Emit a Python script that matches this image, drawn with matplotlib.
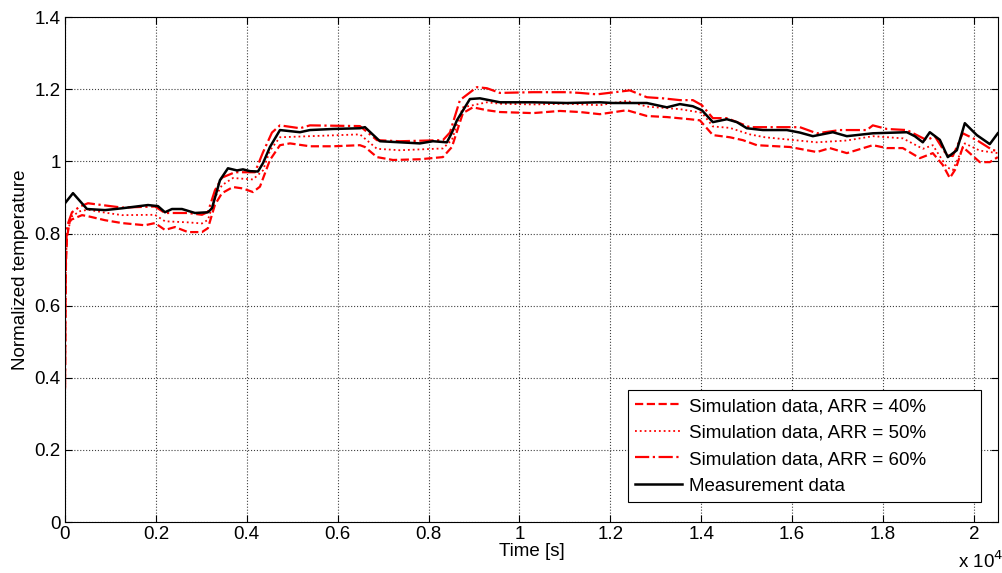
import numpy as np
import matplotlib
matplotlib.use("Agg")
import matplotlib.pyplot as plt
from matplotlib.ticker import FuncFormatter

plt.rcParams['font.family'] = ['Liberation Sans', 'DejaVu Sans']
plt.rcParams['font.size'] = 13.5

#-----------------------
#   data (time in s)
#-----------------------

t_meas = [0, 176, 330, 484, 880, 1254, 1826, 2046, 2200, 2354, 2574, 2860, 3146, 3234,
          3410, 3586, 3784, 3916, 4070, 4246, 4356, 4510, 4730, 4950, 5170, 5390, 5896,
          6490, 6600, 6930, 7370, 7810, 8096, 8404, 8514, 8624, 8910, 9130, 9570, 10296,
          11044, 11770, 12056, 12804, 13244, 13530, 13816, 14014, 14256, 14564, 14784,
          15004, 15356, 15884, 16170, 16456, 16896, 17204, 17776, 18524, 18700, 18876,
          19030, 19250, 19426, 19624, 19800, 20064, 20350, 20526]
y_meas = [0.884, 0.912, 0.89, 0.868, 0.865, 0.87, 0.879, 0.876, 0.859, 0.868, 0.868, 0.857,
          0.859, 0.87, 0.948, 0.981, 0.975, 0.978, 0.973, 0.972, 0.995, 1.04, 1.087, 1.084,
          1.081, 1.087, 1.09, 1.092, 1.095, 1.056, 1.053, 1.05, 1.056, 1.053, 1.08, 1.114,
          1.173, 1.175, 1.164, 1.164, 1.162, 1.164, 1.162, 1.162, 1.15, 1.159, 1.153, 1.142,
          1.109, 1.117, 1.109, 1.092, 1.087, 1.087, 1.08, 1.07, 1.081, 1.07, 1.078, 1.081,
          1.07, 1.053, 1.081, 1.06, 1.012, 1.031, 1.106, 1.073, 1.048, 1.078]

t_arr40 = [0, 10, 22, 44, 110, 374, 506, 880, 1254, 1760, 1980, 2200, 2420, 2706, 3014,
           3146, 3300, 3454, 3696, 3916, 4136, 4290, 4510, 4730, 4950, 5390, 5896, 6490,
           6600, 6864, 7216, 7810, 8316, 8514, 8756, 8976, 9284, 9570, 10296, 10890, 11330,
           11770, 12364, 12804, 13244, 13750, 13970, 14256, 14630, 14916, 15224, 15950,
           16544, 16830, 17204, 17776, 18084, 18436, 18810, 19096, 19316, 19470, 19602,
           19756, 20130, 20350, 20526]
y_arr40 = [0.37, 0.6, 0.72, 0.79, 0.837, 0.851, 0.848, 0.837, 0.829, 0.823, 0.829, 0.81,
           0.818, 0.804, 0.804, 0.815, 0.88, 0.912, 0.929, 0.925, 0.915, 0.93, 1.004, 1.045,
           1.05, 1.042, 1.042, 1.045, 1.04, 1.012, 1.004, 1.006, 1.012, 1.04, 1.134, 1.15,
           1.142, 1.137, 1.134, 1.14, 1.137, 1.131, 1.142, 1.126, 1.123, 1.117, 1.114, 1.073,
           1.067, 1.059, 1.045, 1.04, 1.026, 1.037, 1.023, 1.045, 1.037, 1.037, 1.009, 1.023,
           0.99, 0.954, 0.98, 1.04, 0.998, 0.998, 1.012]

t_arr50 = [0, 10, 22, 44, 154, 330, 506, 880, 1254, 1980, 2200, 2706, 3014, 3146, 3300,
           3454, 3696, 4136, 4356, 4510, 4730, 5390, 6490, 6864, 7370, 8316, 8514, 8756,
           9284, 9570, 10296, 11044, 11770, 12364, 12804, 13530, 14014, 14256, 14630, 15070,
           15400, 16544, 17204, 17776, 18436, 18876, 19096, 19404, 19536, 19800, 20130, 20526]
y_arr50 = [0.37, 0.61, 0.73, 0.80, 0.848, 0.862, 0.866, 0.858, 0.851, 0.852, 0.834, 0.831,
           0.828, 0.838, 0.90, 0.934, 0.954, 0.95, 0.975, 1.03, 1.067, 1.07, 1.075, 1.035,
           1.031, 1.036, 1.06, 1.15, 1.164, 1.16, 1.158, 1.16, 1.156, 1.168, 1.152, 1.145,
           1.135, 1.097, 1.093, 1.075, 1.067, 1.053, 1.058, 1.07, 1.064, 1.035, 1.045, 0.984,
           0.976, 1.05, 1.03, 1.023]

t_arr60 = [0, 10, 22, 44, 154, 330, 506, 814, 1254, 1980, 2200, 2706, 3014, 3146, 3300,
           3454, 3740, 4180, 4356, 4554, 4730, 5170, 5390, 6490, 6864, 7370, 8316, 8470,
           8690, 9064, 9284, 9570, 10296, 11044, 11330, 11704, 12430, 12804, 13156, 13530,
           13816, 14014, 14256, 14564, 15070, 16170, 16544, 17050, 17644, 17776, 18084,
           18524, 18964, 19140, 19404, 19536, 19756, 20064, 20416, 20526]
y_arr60 = [0.37, 0.62, 0.75, 0.82, 0.859, 0.875, 0.884, 0.879, 0.872, 0.875, 0.857, 0.857,
           0.852, 0.86, 0.92, 0.955, 0.97, 0.97, 1.025, 1.08, 1.10, 1.092, 1.1, 1.098, 1.059,
           1.056, 1.059, 1.08, 1.17, 1.206, 1.203, 1.19, 1.192, 1.192, 1.19, 1.186, 1.197,
           1.178, 1.175, 1.17, 1.17, 1.156, 1.12, 1.12, 1.095, 1.095, 1.078, 1.087, 1.087,
           1.10, 1.09, 1.087, 1.059, 1.07, 1.017, 1.015, 1.078, 1.059, 1.031, 1.03]

x_max = 20530
x_ticks = np.arange(0, 20001, 2000)
y_ticks = np.arange(0, 1.41, 0.2)

#-----------------------
#   plot
#-----------------------

fig = plt.figure(figsize=(10.03, 5.73), dpi=100)
ax = fig.add_axes([0.0648, 0.089, 0.9302, 0.881])

ax.plot(t_arr40, y_arr40, '--', color='red', lw=1.6, label='Simulation data, ARR = 40%')
ax.plot(t_arr50, y_arr50, ':', color='red', lw=1.3, label='Simulation data, ARR = 50%')
ax.plot(t_arr60, y_arr60, '-.', color='red', lw=1.6, label='Simulation data, ARR = 60%')
ax.plot(t_meas, y_meas, '-', color='black', lw=1.8, label='Measurement data')

ax.set_xlim(0, x_max)
ax.set_ylim(0, 1.4)
ax.set_xticks(x_ticks)
ax.set_yticks(y_ticks)
ax.xaxis.set_major_formatter(FuncFormatter(lambda v, p: f"{v/1e4:g}"))
ax.yaxis.set_major_formatter(FuncFormatter(lambda v, p: f"{v:g}"))
ax.tick_params(direction='in', top=True, right=True, length=5, width=0.8, labelsize=13.5, pad=3)
ax.grid(True, linestyle=':', color='#404040', lw=0.8)
for s in ax.spines.values():
    s.set_linewidth(0.8)

ax.set_xlabel('Time [s]', labelpad=0)
ax.set_ylabel('Normalized temperature', labelpad=4)
fig.text(0.978, 0.002, r'x 10$^4$', ha='center', va='bottom', fontsize=13.5)

# legend box as wide as in the reference (MATLAB style, extra room on the right)
leg = ax.legend(loc='lower left', bbox_to_anchor=(0.6034, 0.0396, 0.378, 0.22), mode='expand',
                borderaxespad=0, fancybox=False, framealpha=1, edgecolor='black',
                handlelength=2.5, handletextpad=0.37, labelspacing=0.5, borderpad=0.4,
                fontsize=13.5)
leg.get_frame().set_linewidth(0.8)

fig.savefig('out.png', dpi=100)
